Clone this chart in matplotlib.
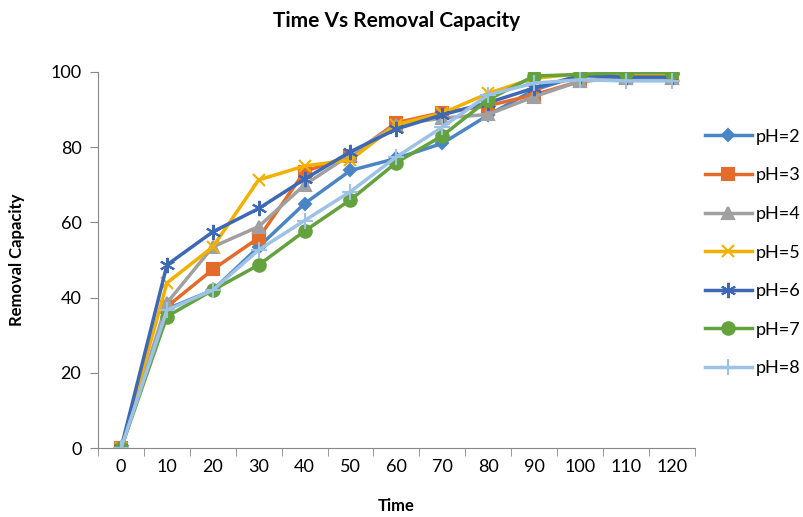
import matplotlib
matplotlib.use("Agg")
import matplotlib.pyplot as plt
import numpy as np

plt.rcParams["font.family"] = ["Lato", "DejaVu Sans"]

times = ["0", "10", "20", "30", "40", "50", "60", "70", "80", "90", "100", "110", "120"]
ph2 = [0, 37, 42, 53.5, 65, 73.8, 77, 81, 88.5, 95.2, 99, 99.5, 99.5]
ph3 = [0, 37.6, 47.5, 55.9, 73.5, 77.7, 86.5, 89.2, 91, 93.9, 97.5, 98.4, 98.4]
ph4 = [0, 38.6, 53.5, 58.9, 70, 78, 86, 87.7, 88.7, 93.4, 97.5, 98.4, 98.4]
ph5 = [0, 43.9, 53.5, 71.3, 75, 76.6, 86, 89, 94.3, 98.3, 99.5, 99.3, 99.3]
ph6 = [0, 48.7, 57.5, 63.7, 71.5, 78.8, 84.8, 88.6, 91.8, 95.7, 99, 98.6, 98.6]
ph7 = [0, 35, 42, 48.7, 57.7, 66, 75.9, 83, 92.6, 98.9, 99.3, 99.8, 99.8]
ph8 = [0, 36.7, 42, 52.7, 60.5, 68.2, 77.4, 85.3, 93.9, 97, 97.9, 97.6, 97.6]

series = [
    ("pH=2", ph2, "#4a86c6", "D", 6),
    ("pH=3", ph3, "#e46c2a", "s", 8),
    ("pH=4", ph4, "#a0a0a0", "^", 8),
    ("pH=5", ph5, "#f2b100", "x", 9),
    ("pH=6", ph6, "#3d68b5", (6, 2, 0), 11),
    ("pH=7", ph7, "#64a23e", "o", 9),
    ("pH=8", ph8, "#9cc2e5", "+", 11),
]

fig = plt.figure(figsize=(8.04, 5.17), dpi=100)
ax = fig.add_axes([0.122, 0.133, 0.742, 0.728])
x = np.arange(len(times))
for label, vals, col, mk, ms in series:
    ax.plot(x, vals, color=col, lw=2.5, marker=mk, ms=ms, mew=1.5,
            mfc=col, mec=col, label=label)

ax.set_xlim(-0.5, len(times) - 0.5)
ax.set_ylim(0, 100)
ax.set_yticks(range(0, 101, 20))
ax.set_xticks(x)
ax.set_xticklabels(times)
ax.set_xticks(np.arange(-0.5, len(times), 1), minor=True)
ax.tick_params(axis="x", which="major", length=0, labelsize=13, pad=8)
ax.tick_params(axis="x", which="minor", length=6, color="#888888", direction="out")
ax.tick_params(axis="y", length=6, color="#888888", labelsize=13, pad=6)
for s in ["top", "right"]:
    ax.spines[s].set_visible(False)
for s in ["left", "bottom"]:
    ax.spines[s].set_color("#888888")

ax.set_title("Time Vs Removal Capacity", fontsize=15, fontweight="bold", pad=32)
ax.set_xlabel("Time", fontsize=12, fontweight="bold", labelpad=16)
ax.set_ylabel("Removal Capacity", fontsize=12, fontweight="bold", labelpad=18)

ax.legend(loc="center left", bbox_to_anchor=(1.005, 0.52), frameon=False,
          borderaxespad=0, fontsize=13, handlelength=2.6, labelspacing=1.25,
          handletextpad=0.2)

fig.savefig("out.png", dpi=100)
